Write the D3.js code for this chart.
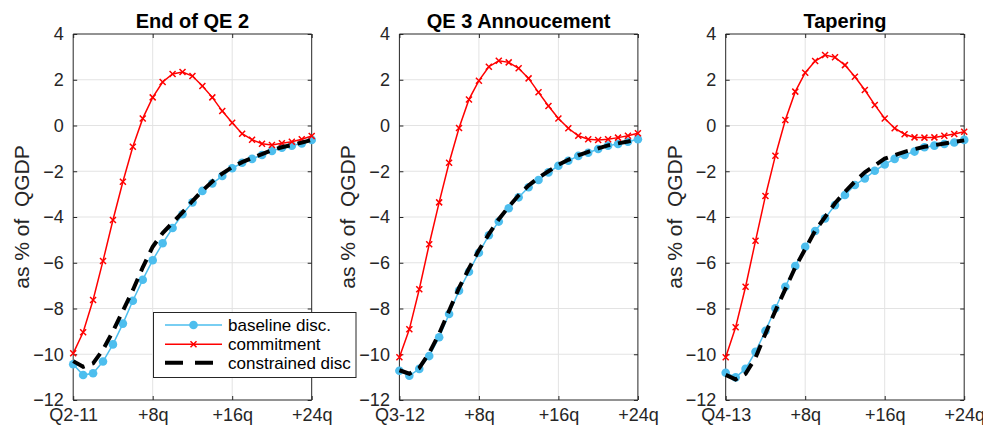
<!DOCTYPE html>
<html>
<head>
<meta charset="utf-8">
<script src="https://cdn.jsdelivr.net/npm/d3@7"></script>
<style>
  html, body { margin: 0; padding: 0; background: #fff; }
  svg { display: block; }
  text { font-family: "Liberation Sans", Arial, Helvetica, sans-serif; }
</style>
</head>
<body>
<svg id="chart" width="983" height="431"></svg>
<script>
// Horizon in quarters after each episode
const horizon = [0,1,2,3,4,5,6,7,8,9,10,11,12,13,14,15,16,17,18,19,20,21,22,23,24];

const panelTitles = ["End of QE 2", "QE 3 Annoucement", "Tapering"];
const startLabels = ["Q2-11", "Q3-12", "Q4-13"];
const xTickValues = [0, 8, 16, 24];
const xTickSuffixes = ["", "+8q", "+16q", "+24q"];
const yTickValues = [-12, -10, -8, -6, -4, -2, 0, 2, 4];
const yLabel = "as % of  QGDP";
const seriesNames = ["baseline disc.", "commitment", "constrained disc"];

// End of QE 2
const baselineQE2 = [-10.44,-10.91,-10.83,-10.32,-9.57,-8.66,-7.66,-6.74,-5.89,-5.15,-4.48,-3.88,-3.36,-2.86,-2.53,-2.21,-1.87,-1.63,-1.46,-1.29,-1.11,-0.97,-0.88,-0.78,-0.63];
const commitmentQE2 = [-9.96,-9.04,-7.63,-5.92,-4.13,-2.46,-0.93,0.31,1.23,1.90,2.25,2.34,2.16,1.73,1.23,0.63,0.12,-0.36,-0.62,-0.80,-0.85,-0.78,-0.71,-0.60,-0.46];
const constrainedQE2 = [-10.30,-10.55,-10.40,-9.80,-9.00,-8.10,-7.20,-6.20,-5.30,-4.70,-4.25,-3.80,-3.30,-2.85,-2.45,-2.10,-1.82,-1.60,-1.42,-1.25,-1.08,-0.95,-0.85,-0.75,-0.63];

// QE 3 announcement
const baselineQE3 = [-10.72,-10.94,-10.64,-10.08,-9.26,-8.24,-7.22,-6.39,-5.56,-4.80,-4.20,-3.62,-3.14,-2.70,-2.38,-2.05,-1.76,-1.54,-1.33,-1.19,-1.03,-0.88,-0.81,-0.71,-0.60];
const commitmentQE3 = [-10.13,-8.91,-7.16,-5.19,-3.36,-1.63,-0.11,1.14,1.96,2.57,2.83,2.76,2.50,2.06,1.45,0.85,0.31,-0.12,-0.45,-0.60,-0.63,-0.60,-0.53,-0.45,-0.34];
const constrainedQE3 = [-10.70,-10.85,-10.60,-9.95,-9.10,-8.10,-7.10,-6.25,-5.45,-4.75,-4.10,-3.55,-3.05,-2.62,-2.28,-2.00,-1.72,-1.50,-1.30,-1.15,-1.00,-0.87,-0.78,-0.70,-0.60];

// Tapering
const baselineTaper = [-10.81,-11.01,-10.64,-9.89,-8.98,-7.99,-7.05,-6.14,-5.30,-4.61,-4.06,-3.48,-3.04,-2.60,-2.31,-1.98,-1.70,-1.46,-1.29,-1.14,-0.95,-0.88,-0.81,-0.74,-0.63];
const commitmentTaper = [-10.13,-8.82,-7.05,-5.04,-3.08,-1.32,0.24,1.48,2.31,2.82,3.08,2.98,2.64,2.13,1.55,0.90,0.31,-0.12,-0.38,-0.52,-0.53,-0.52,-0.45,-0.37,-0.27];
const constrainedTaper = [-10.90,-11.10,-10.85,-10.15,-9.10,-8.10,-7.15,-6.20,-5.40,-4.60,-4.00,-3.40,-2.90,-2.45,-2.05,-1.75,-1.45,-1.30,-1.15,-1.03,-0.93,-0.86,-0.79,-0.72,-0.65];

const panels = [
  { title: panelTitles[0], start: startLabels[0], baseline: baselineQE2, commitment: commitmentQE2, constrained: constrainedQE2 },
  { title: panelTitles[1], start: startLabels[1], baseline: baselineQE3, commitment: commitmentQE3, constrained: constrainedQE3 },
  { title: panelTitles[2], start: startLabels[2], baseline: baselineTaper, commitment: commitmentTaper, constrained: constrainedTaper }
];

const colors = { baseline: "#4DBEEE", commitment: "#FF0000", constrained: "#000000" };
const axisColor = "#262626";
const gridColor = "#e3e3e3";

const svg = d3.select("#chart");
const lefts = [73.2, 399.4, 725.7];
const plotW = 238.5;
const plotTop = 34, plotBottom = 400;

const y = d3.scaleLinear().domain([-12, 4]).range([plotBottom, plotTop]);

panels.forEach((p, pi) => {
  const x = d3.scaleLinear().domain([0, 24]).range([lefts[pi], lefts[pi] + plotW]);
  const g = svg.append("g");

  // grid
  g.append("g").selectAll("line").data(yTickValues.filter(v => v > -12 && v < 4)).join("line")
    .attr("x1", x(0)).attr("x2", x(24)).attr("y1", d => y(d)).attr("y2", d => y(d))
    .attr("stroke", gridColor).attr("stroke-width", 1);
  g.append("g").selectAll("line").data(xTickValues.filter(v => v > 0 && v < 24)).join("line")
    .attr("x1", d => x(d)).attr("x2", d => x(d)).attr("y1", plotTop).attr("y2", plotBottom)
    .attr("stroke", gridColor).attr("stroke-width", 1);

  // axes (ticks pointing inward, boxed)
  const tickLabels = xTickSuffixes.map((s, i) => i === 0 ? p.start : s);
  const xAxis = d3.axisBottom(x).tickValues(xTickValues).tickSize(-4).tickPadding(8)
    .tickFormat((d, i) => tickLabels[i]);
  const xAxisTop = d3.axisTop(x).tickValues(xTickValues).tickSize(-4).tickFormat("");
  const yAxis = d3.axisLeft(y).tickValues(yTickValues).tickSize(-4).tickPadding(9.5);
  const yAxisRight = d3.axisRight(y).tickValues(yTickValues).tickSize(-4).tickFormat("");

  const styleAxis = sel => {
    sel.select(".domain").attr("stroke", axisColor).attr("stroke-width", 1);
    sel.selectAll(".tick line").attr("stroke", axisColor).attr("stroke-width", 1);
    sel.selectAll(".tick text").attr("fill", axisColor).style("font-size", "18px")
      .style("font-family", '"Liberation Sans", Arial, sans-serif');
  };
  g.append("g").attr("transform", `translate(0,${plotBottom})`).call(xAxis).call(styleAxis)
    .call(s => s.select(".domain").attr("d", `M${x(0)},0H${x(24)}`));
  g.append("g").attr("transform", `translate(0,${plotTop})`).call(xAxisTop).call(styleAxis)
    .call(s => s.select(".domain").attr("d", `M${x(0)},0H${x(24)}`));
  g.append("g").attr("transform", `translate(${x(0)},0)`).call(yAxis).call(styleAxis)
    .call(s => s.select(".domain").attr("d", `M0,${plotTop}V${plotBottom}`));
  g.append("g").attr("transform", `translate(${x(24)},0)`).call(yAxisRight).call(styleAxis)
    .call(s => s.select(".domain").attr("d", `M0,${plotTop}V${plotBottom}`));

  // title
  g.append("text").attr("x", (x(0) + x(24)) / 2).attr("y", 27.5)
    .attr("text-anchor", "middle").attr("font-weight", "bold").attr("font-size", 20)
    .attr("fill", "#000").text(p.title);

  // y label
  g.append("text")
    .attr("transform", `translate(${x(0) - 51.5},${(plotTop + plotBottom) / 2}) rotate(-90)`)
    .attr("text-anchor", "middle").attr("dy", "0.35em").attr("font-size", 21)
    .attr("fill", axisColor).style("white-space", "pre").text(yLabel);

  const line = d3.line().x(d => x(d[0])).y(d => y(d[1]));

  // baseline discretion: line + filled circles
  const bData = horizon.map((h, i) => [h, p.baseline[i]]);
  g.append("path").attr("d", line(bData)).attr("fill", "none")
    .attr("stroke", colors.baseline).attr("stroke-width", 1.5);
  g.append("g").selectAll("circle").data(bData).join("circle")
    .attr("cx", d => x(d[0])).attr("cy", d => y(d[1])).attr("r", 4.3)
    .attr("fill", colors.baseline);

  // commitment: line + x markers
  const cData = horizon.map((h, i) => [h, p.commitment[i]]);
  g.append("path").attr("d", line(cData)).attr("fill", "none")
    .attr("stroke", colors.commitment).attr("stroke-width", 1.5);
  const s = 3;
  g.append("g").selectAll("path").data(cData).join("path")
    .attr("d", d => `M${x(d[0]) - s},${y(d[1]) - s}L${x(d[0]) + s},${y(d[1]) + s}M${x(d[0]) - s},${y(d[1]) + s}L${x(d[0]) + s},${y(d[1]) - s}`)
    .attr("stroke", colors.commitment).attr("stroke-width", 1.5).attr("fill", "none");

  // constrained discretion: thick dashed line
  const kData = horizon.map((h, i) => [h, p.constrained[i]]);
  g.append("path").attr("d", line(kData)).attr("fill", "none")
    .attr("stroke", colors.constrained).attr("stroke-width", 4)
    .attr("stroke-dasharray", "13,8");
});

// legend in the first panel
const leg = svg.append("g");
leg.append("rect").attr("x", 153.5).attr("y", 312.5).attr("width", 202.5).attr("height", 65)
  .attr("fill", "#fff").attr("stroke", axisColor).attr("stroke-width", 1);
const rows = [325, 344.3, 362.7];
const lx1 = 165, lx2 = 222, lmx = 193.5;
leg.append("line").attr("x1", lx1).attr("x2", lx2).attr("y1", rows[0]).attr("y2", rows[0])
  .attr("stroke", colors.baseline).attr("stroke-width", 1.5);
leg.append("circle").attr("cx", lmx).attr("cy", rows[0]).attr("r", 4.3).attr("fill", colors.baseline);
leg.append("line").attr("x1", lx1).attr("x2", lx2).attr("y1", rows[1]).attr("y2", rows[1])
  .attr("stroke", colors.commitment).attr("stroke-width", 1.5);
leg.append("path")
  .attr("d", `M${lmx - 3},${rows[1] - 3}L${lmx + 3},${rows[1] + 3}M${lmx - 3},${rows[1] + 3}L${lmx + 3},${rows[1] - 3}`)
  .attr("stroke", colors.commitment).attr("stroke-width", 1.5);
leg.append("line").attr("x1", lx1).attr("x2", lx2).attr("y1", rows[2]).attr("y2", rows[2])
  .attr("stroke", colors.constrained).attr("stroke-width", 4).attr("stroke-dasharray", "18,12");
leg.selectAll("text.lab").data(seriesNames).join("text")
  .attr("class", "lab")
  .attr("x", 228).attr("y", (d, i) => rows[i]).attr("dy", "0.35em")
  .attr("font-size", 17).attr("fill", "#000").text(d => d);
</script>
</body>
</html>
